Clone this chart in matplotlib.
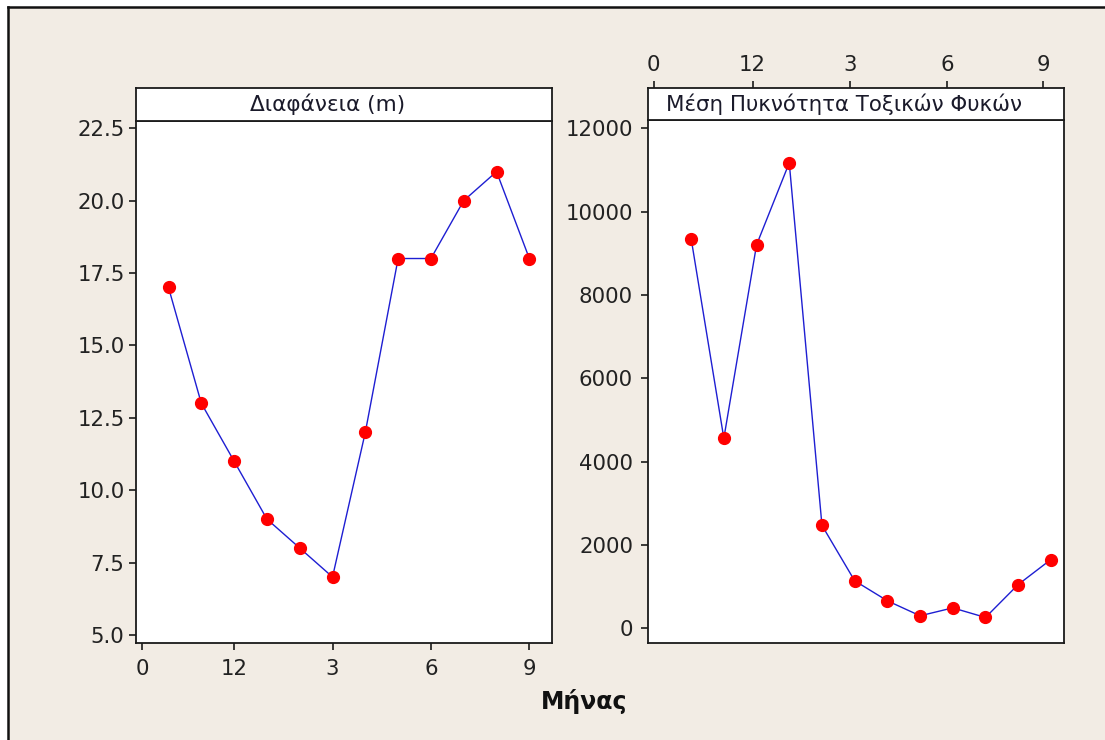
import matplotlib.pyplot as plt
from matplotlib.patches import Rectangle
from matplotlib.lines import Line2D

# data (months Oct..Sep, index 1..12)
months = list(range(1, 13))
diafaneia = [17, 13, 11, 9, 8, 7, 12, 18, 18, 20, 21, 18]
pyknotita = [9350, 4560, 9200, 11170, 2470, 1140, 660, 300, 490, 260, 1050, 1650]

month_labels = ['0', '12', '3', '6', '9']
left_ticks = [0.2, 3, 6, 9, 12]
right_ticks = [-0.14, 2.88, 5.85, 8.83, 11.76]

left_yticks = [5.0, 7.5, 10.0, 12.5, 15.0, 17.5, 20.0, 22.5]
right_yticks = [0, 2000, 4000, 6000, 8000, 10000, 12000]

bg = '#f2ece4'
line_col = '#1e1ed2'
dot_col = '#ff0000'
W, H = 1105, 740


def box(x0, y0, x1, y1):
    # pixel box -> figure fraction [left, bottom, width, height]
    return [x0 / W, 1 - y1 / H, (x1 - x0) / W, (y1 - y0) / H]


plt.rcParams['font.family'] = 'DejaVu Sans'
plt.rcParams['font.size'] = 15

fig = plt.figure(figsize=(W / 100, H / 100), dpi=100, facecolor='white')
fig.patches.append(Rectangle((8 / W, 0), 1, 1 - 7 / H, transform=fig.transFigure,
                             facecolor=bg, edgecolor='none', zorder=-10))
fig.add_artist(Line2D([7.5 / W, 7.5 / W], [0, 1 - 6.5 / H], color='#111111', lw=1.8))
fig.add_artist(Line2D([7.5 / W, 1], [1 - 6.5 / H, 1 - 6.5 / H], color='#111111', lw=1.8))


def style(ax):
    ax.set_facecolor('white')
    for s in ax.spines.values():
        s.set_linewidth(1.3)
        s.set_color('#1a1a1a')
    ax.tick_params(direction='out', length=5, width=1.2, colors='#1a1a1a',
                   labelcolor='#222222', labelsize=15.3)


# ---- left panel: Διαφάνεια (m)
ax1 = fig.add_axes(box(135.7, 120.7, 552.3, 643.3))
strip1 = fig.add_axes(box(135.7, 87.7, 552.3, 120.7))
style(ax1)
style(strip1)
ax1.plot(months, diafaneia, color=line_col, lw=1.0, zorder=2)
ax1.plot(months, diafaneia, 'o', color=dot_col, ms=8.5, zorder=3)
ax1.set_xlim(0, 12.7)
ax1.set_ylim(4.71, 22.76)
ax1.set_xticks(left_ticks)
ax1.set_xticklabels(month_labels)
ax1.set_yticks(left_yticks)
ax1.set_yticklabels([f'{v:.1f}' for v in left_yticks])
ax1.tick_params(axis='y', pad=3)
ax1.tick_params(axis='x', pad=6)
strip1.set_xticks([])
strip1.set_yticks([])
strip1.text(0.46, 0.5, 'Διαφάνεια (m)', transform=strip1.transAxes,
            ha='center', va='center', fontsize=15.6, color='#1a1a2a')

# ---- right panel: Μέση Πυκνότητα Τοξικών Φυκών
ax2 = fig.add_axes(box(648.3, 120.3, 1064.3, 643.3))
strip2 = fig.add_axes(box(648.3, 87.7, 1064.3, 120.3))
style(ax2)
style(strip2)
ax2.plot(months, pyknotita, color=line_col, lw=1.0, zorder=2)
ax2.plot(months, pyknotita, 'o', color=dot_col, ms=8.5, zorder=3)
ax2.set_xlim(-0.31, 12.41)
ax2.set_ylim(-360, 12190)
ax2.set_xticks([])
ax2.set_yticks(right_yticks)
ax2.tick_params(axis='y', pad=6)
strip2.set_xlim(-0.31, 12.41)
strip2.xaxis.tick_top()
strip2.set_xticks(right_ticks)
strip2.set_xticklabels(month_labels)
strip2.set_yticks([])
strip2.tick_params(axis='x', pad=4)
strip2.text(0.47, 0.5, 'Μέση Πυκνότητα Τοξικών Φυκών', transform=strip2.transAxes,
            ha='center', va='center', fontsize=15.4, color='#1a1a2a')

fig.text(584 / W, 1 - 701 / H, 'Μήνας', ha='center', va='center',
         fontsize=17, fontweight='bold', color='#111111')

fig.savefig('out.png', dpi=100, facecolor=fig.get_facecolor())
